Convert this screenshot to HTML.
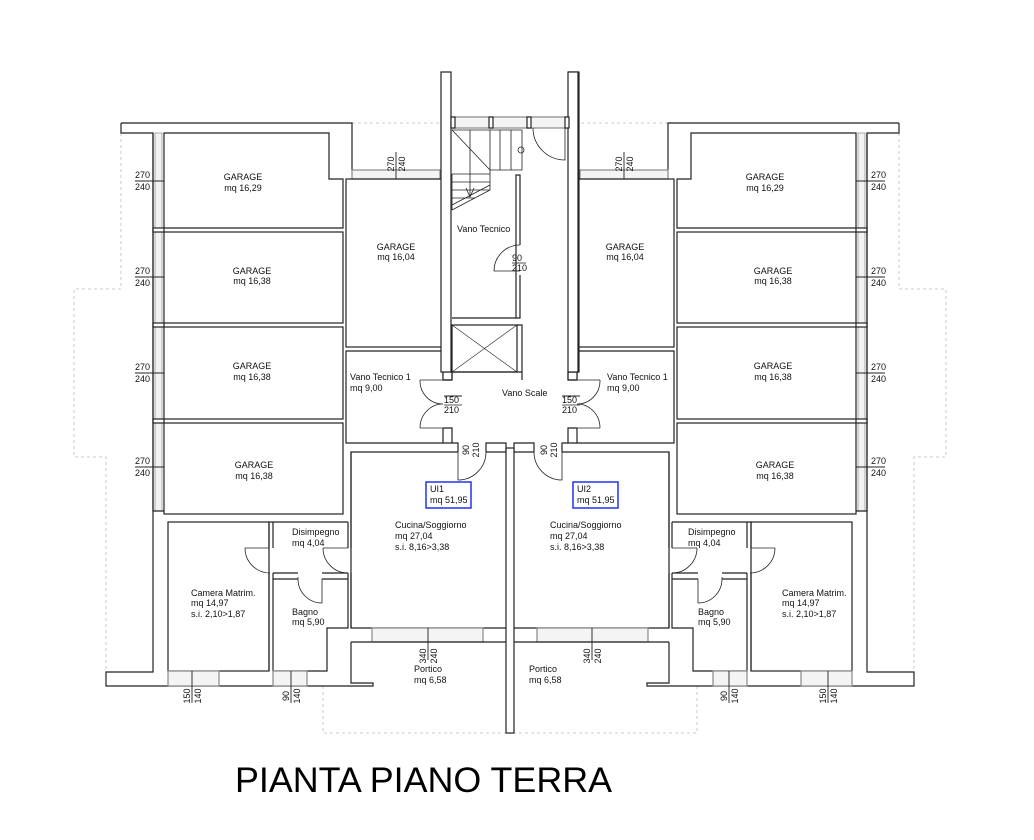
<!DOCTYPE html>
<html><head><meta charset="utf-8"><style>
html,body{margin:0;padding:0;background:#fff;}
svg{display:block;}
text{font-family:"Liberation Sans",sans-serif;font-size:9px;fill:#111;}
</style></head><body>
<svg width="1034" height="840" viewBox="0 0 1034 840" xmlns="http://www.w3.org/2000/svg">
<defs>
<g id="half" fill="none" stroke="#222" stroke-width="1.2">
  <path d="M121,133 V289 H74 V457 H106 V672" stroke="#bbb" stroke-width="0.8" stroke-dasharray="3,3"/>
  <path d="M323,686 V733 H506" stroke="#bbb" stroke-width="0.8" stroke-dasharray="3,3"/>
  <path d="M352,123 H441" stroke="#bbb" stroke-width="0.8" stroke-dasharray="3,3"/>
  <path d="M121,123 H352 V170 M121,123 V133 H153 V672 H106 V686 H373 V683 H351 V642"/>
  <rect x="155" y="133" width="7" height="378" fill="#f2f2f2" stroke="#999" stroke-width="0.8"/>
  <rect x="153" y="228" width="11" height="4" fill="#fff"/>
  <rect x="153" y="323" width="11" height="4" fill="#fff"/>
  <rect x="153" y="419" width="11" height="4" fill="#fff"/>
  <path d="M153,133 V511 H164"/>
  <path d="M164,133 H329 V179 H343 V228 H164 Z"/>
  <rect x="164" y="232" width="179" height="91"/>
  <rect x="164" y="327" width="179" height="92"/>
  <rect x="164" y="423" width="179" height="91"/>
  <rect x="352" y="170" width="88" height="9" fill="#f4f4f4" stroke="#888"/>
  <rect x="346" y="179" width="97" height="168"/>
  <path d="M443,378 V351 H346 V443 H443 V428"/>
  <rect x="443" y="372" width="9" height="8" fill="#fff"/>
  <path d="M443,380 h9 M443,428 h9 V443 M452,380 V372"/>
  <path d="M420,380 H443 M420,380 A23,23 0 0 0 443,404 M420,428 H443 M420,428 A23,24 0 0 1 443,404" stroke-width="0.8"/>
  <rect x="441" y="72" width="10" height="300" fill="#fff"/>
  <path d="M443,443 H458 V452 M486,452 V443 H506 V452"/>
  <path d="M486,452 A28,28 0 0 1 458,480 V452" stroke-width="0.8"/>
  <path d="M458,452 H351 V628 H507 M486,452 H507"/>
  <path d="M351,452 V548 M351,573 V628"/>
  <rect x="372" y="628" width="111" height="14" fill="#f4f4f4" stroke="#888"/>
  <path d="M351,642 H506"/>
  <rect x="168" y="522" width="101" height="149"/>
  <path d="M269,548 V522 H348 M269,573 V671 M273,573 V671 H327 V628 H348 V579 H322 M298,579 H273 M273,579 V577 M273,548 V522 M348,548 V522 M348,573 V579"/>
  <path d="M273,573 H298 M322,573 H348"/>
  <path d="M245,548 H269 M245,548 A25,25 0 0 0 270,573" stroke-width="0.8"/>
  <path d="M323,548 H348 M323,548 A25,25 0 0 0 348,573" stroke-width="0.8"/>
  <path d="M298,577 V579 M298,579 A24,24 0 0 0 322,603 V579" stroke-width="0.8"/>
  <rect x="168" y="671" width="51" height="15" fill="#f4f4f4" stroke="#888"/>
  <rect x="273" y="671" width="34" height="15" fill="#f4f4f4" stroke="#888"/>
</g>
</defs>

<use href="#half"/>
<use href="#half" transform="translate(1020,0) scale(-1,1)"/>

<g fill="none" stroke="#222" stroke-width="1.2">
  <rect x="506" y="448" width="8" height="285" fill="#fff"/>
  <rect x="568" y="72" width="10" height="300" fill="#fff"/>
  <rect x="451" y="117" width="117" height="11" fill="#f4f4f4" stroke="#888"/>
  <rect x="451" y="117" width="4" height="11" fill="#fff"/>
  <rect x="489" y="117" width="4" height="11" fill="#fff"/>
  <rect x="527" y="117" width="4" height="11" fill="#fff"/>
  <rect x="565" y="117" width="4" height="11" fill="#fff"/>
  <path d="M533,128 A32,32 0 0 0 565,160 V128" stroke-width="0.8"/>
  <path d="M452,130 H522 V170 H490 V190 L452,210 M452,130 L490,170 M470,130 V170 M490,130 V170 M500,130 V170 M511,130 V170 M452,174 V210 M452,174 H490 M452,182 H490 M452,190 H490 M452,198 H475 M452,205 L490,185 M470,168 V197 M466,188 L470,197 L474,188" stroke-width="0.8"/>
  <circle cx="521" cy="150" r="3" stroke-width="0.8"/>
  <path d="M452,318 H520 V275 M520,245 V175 H516 V318"/>
  <path d="M520,245 A26,26 0 0 0 494,271 H520" stroke-width="0.8"/>
  <rect x="452" y="325" width="65" height="47"/>
  <path d="M452,325 L517,372 M517,325 L452,372" stroke-width="0.6"/>
  <path d="M517,325 H522 V380 M452,372 H522"/>
</g>
<rect x="426" y="482" width="45" height="26" fill="none" stroke="#2233ee" stroke-width="1.5"/>
<rect x="573" y="482" width="45" height="26" fill="none" stroke="#2233ee" stroke-width="1.5"/>

<g stroke="#222" stroke-width="0.9">
  <path d="M135,181 H164 M135,277 H164 M135,373 H164 M135,467 H164"/>
  <path d="M856,181 H885 M856,277 H885 M856,373 H885 M856,467 H885"/>
  <path d="M396,152 V179 M624,152 V179 M428,628 V660 M592,628 V660"/>
  <path d="M192,671 V703 M291,671 V703 M729,671 V703 M828,671 V703"/>
  <path d="M444,396 H462 M562,396 H580"/>
</g>

<g>
<text x="135" y="178">270</text><text x="135" y="190">240</text>
<text x="135" y="274">270</text><text x="135" y="286">240</text>
<text x="135" y="370">270</text><text x="135" y="382">240</text>
<text x="135" y="464">270</text><text x="135" y="476">240</text>
<text x="871" y="178">270</text><text x="871" y="190">240</text>
<text x="871" y="274">270</text><text x="871" y="286">240</text>
<text x="871" y="370">270</text><text x="871" y="382">240</text>
<text x="871" y="464">270</text><text x="871" y="476">240</text>

<text transform="translate(394,164) rotate(-90)" text-anchor="middle">270</text>
<text transform="translate(405,164) rotate(-90)" text-anchor="middle">240</text>
<text transform="translate(622,164) rotate(-90)" text-anchor="middle">270</text>
<text transform="translate(633,164) rotate(-90)" text-anchor="middle">240</text>
<text transform="translate(426,656) rotate(-90)" text-anchor="middle">340</text>
<text transform="translate(437,656) rotate(-90)" text-anchor="middle">240</text>
<text transform="translate(590,656) rotate(-90)" text-anchor="middle">340</text>
<text transform="translate(601,656) rotate(-90)" text-anchor="middle">240</text>
<text transform="translate(190,696) rotate(-90)" text-anchor="middle">150</text>
<text transform="translate(201,696) rotate(-90)" text-anchor="middle">140</text>
<text transform="translate(289,696) rotate(-90)" text-anchor="middle">90</text>
<text transform="translate(300,696) rotate(-90)" text-anchor="middle">140</text>
<text transform="translate(727,696) rotate(-90)" text-anchor="middle">90</text>
<text transform="translate(738,696) rotate(-90)" text-anchor="middle">140</text>
<text transform="translate(826,696) rotate(-90)" text-anchor="middle">150</text>
<text transform="translate(837,696) rotate(-90)" text-anchor="middle">140</text>
<text transform="translate(469,450) rotate(-90)" text-anchor="middle">90</text>
<text transform="translate(479,450) rotate(-90)" text-anchor="middle">210</text>
<text transform="translate(547,450) rotate(-90)" text-anchor="middle">90</text>
<text transform="translate(557,450) rotate(-90)" text-anchor="middle">210</text>

<text x="444" y="403">150</text><text x="444" y="413">210</text>
<text x="562" y="403">150</text><text x="562" y="413">210</text>
<text x="512" y="261">90</text><text x="512" y="271">210</text>
<path d="M512,263 H526" stroke="#222" stroke-width="0.8"/>

<text x="243" y="180" text-anchor="middle">GARAGE</text><text x="243" y="191" text-anchor="middle">mq 16,29</text>
<text x="252" y="274" text-anchor="middle">GARAGE</text><text x="252" y="284" text-anchor="middle">mq 16,38</text>
<text x="252" y="369" text-anchor="middle">GARAGE</text><text x="252" y="380" text-anchor="middle">mq 16,38</text>
<text x="254" y="468" text-anchor="middle">GARAGE</text><text x="254" y="479" text-anchor="middle">mq 16,38</text>
<text x="396" y="250" text-anchor="middle">GARAGE</text><text x="396" y="260" text-anchor="middle">mq 16,04</text>
<text x="765" y="180" text-anchor="middle">GARAGE</text><text x="765" y="191" text-anchor="middle">mq 16,29</text>
<text x="773" y="274" text-anchor="middle">GARAGE</text><text x="773" y="284" text-anchor="middle">mq 16,38</text>
<text x="773" y="369" text-anchor="middle">GARAGE</text><text x="773" y="380" text-anchor="middle">mq 16,38</text>
<text x="775" y="468" text-anchor="middle">GARAGE</text><text x="775" y="479" text-anchor="middle">mq 16,38</text>
<text x="625" y="250" text-anchor="middle">GARAGE</text><text x="625" y="260" text-anchor="middle">mq 16,04</text>

<text x="457" y="232">Vano Tecnico</text>
<text x="350" y="380">Vano Tecnico 1</text><text x="350" y="391">mq 9,00</text>
<text x="607" y="380">Vano Tecnico 1</text><text x="607" y="391">mq 9,00</text>
<text x="502" y="396">Vano Scale</text>

<text x="430" y="492">UI1</text><text x="430" y="503">mq 51,95</text>
<text x="577" y="492">UI2</text><text x="577" y="503">mq 51,95</text>

<text x="395" y="528">Cucina/Soggiorno</text><text x="395" y="539">mq 27,04</text><text x="395" y="550">s.i. 8,16&gt;3,38</text>
<text x="550" y="528">Cucina/Soggiorno</text><text x="550" y="539">mq 27,04</text><text x="550" y="550">s.i. 8,16&gt;3,38</text>
<text x="292" y="535">Disimpegno</text><text x="292" y="546">mq 4,04</text>
<text x="688" y="535">Disimpegno</text><text x="688" y="546">mq 4,04</text>
<text x="191" y="596">Camera Matrim.</text><text x="191" y="606">mq 14,97</text><text x="191" y="617">s.i. 2,10&gt;1,87</text>
<text x="782" y="596">Camera Matrim.</text><text x="782" y="606">mq 14,97</text><text x="782" y="617">s.i. 2,10&gt;1,87</text>
<text x="292" y="615">Bagno</text><text x="292" y="625">mq 5,90</text>
<text x="698" y="615">Bagno</text><text x="698" y="625">mq 5,90</text>
<text x="414" y="672">Portico</text><text x="414" y="683">mq 6,58</text>
<text x="529" y="672">Portico</text><text x="529" y="683">mq 6,58</text>
</g>
<g stroke="#222" stroke-width="0.8">
<path d="M444,405 H462 M562,405 H580"/>
</g>

<text x="235" y="792" style="font-size:35px;fill:#000" textLength="377" lengthAdjust="spacingAndGlyphs">PIANTA PIANO TERRA</text>
</svg>
</body></html>
